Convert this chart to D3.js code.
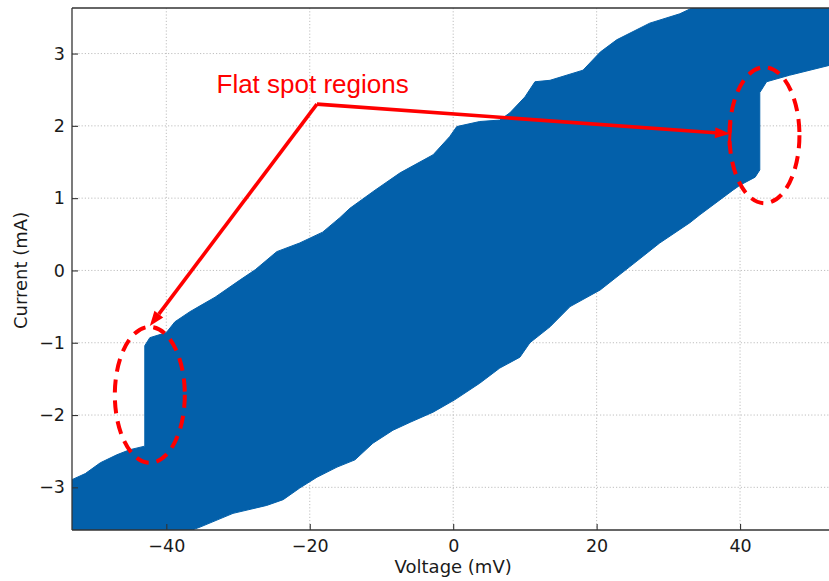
<!DOCTYPE html>
<html><head><meta charset="utf-8">
<script src="https://cdn.jsdelivr.net/npm/d3@7/dist/d3.min.js"></script>
<style>
html,body{margin:0;padding:0;background:#fff;}
svg{display:block;}
</style></head>
<body>
<svg id="chart" width="829" height="581"></svg>
<script>
// Upper boundary of the measured I-V band (voltage mV, current mA)
const upperV = [-53.3, -51.3, -49.2, -46.9, -45.1, -43.0, -43.0, -42.3, -40.0, -38.8, -36.7, -35.3, -33.2, -29.7, -27.6, -24.6, -21.4, -18.2, -15.8, -14.4, -10.9, -7.4, -2.8, -0.5, 0.5, 3.7, 6.5, 7.9, 10.0, 11.4, 13.5, 18.1, 20.5, 22.8, 27.4, 31.6, 34.8, 53];
const upperI = [-2.90, -2.81, -2.66, -2.55, -2.48, -2.43, -1.04, -0.93, -0.86, -0.71, -0.57, -0.49, -0.37, -0.13, 0.01, 0.26, 0.38, 0.53, 0.73, 0.86, 1.11, 1.35, 1.60, 1.85, 1.99, 2.06, 2.08, 2.18, 2.40, 2.61, 2.63, 2.77, 3.02, 3.19, 3.42, 3.55, 3.70, 3.70];
// Lower boundary of the band
const lowerV = [-53.3, -37.4, -36.4, -35.3, -30.7, -26.0, -23.7, -21.4, -19.0, -16.2, -13.7, -11.2, -8.4, -6.0, -2.8, 0.2, 3.7, 6.5, 9.3, 10.7, 13.5, 16.3, 20.5, 24.6, 28.8, 33.0, 34.4, 39.0, 40.0, 42.1, 42.75, 42.75, 43.7, 46.9, 53];
const lowerI = [-3.70, -3.66, -3.59, -3.55, -3.36, -3.25, -3.17, -3.01, -2.86, -2.72, -2.62, -2.39, -2.21, -2.10, -1.96, -1.79, -1.56, -1.35, -1.20, -1.00, -0.78, -0.50, -0.27, 0.05, 0.38, 0.66, 0.77, 1.11, 1.18, 1.29, 1.39, 2.46, 2.61, 2.70, 2.85];

const xTicks = [-40, -20, 0, 20, 40];
const yTicks = [-3, -2, -1, 0, 1, 2, 3];
const xDomain = [-53.15, 52.4];
const yDomain = [-3.59, 3.63];

// annotation anchors (data units)
const labelText = "Flat spot regions";
const labelPos = [-33.0, 2.46];
const arrowVertex = [-19.0, 2.30];
const arrowTips = [[-42.3, -0.77], [38.6, 1.89]];
const ellipseCenters = [[-42.3, -1.72], [43.4, 1.87]];
const ellipseRadii = [4.88, 0.94];

const L = 72, R = 829, T = 8, B = 530;
const svg = d3.select("#chart");
const x = d3.scaleLinear().domain(xDomain).range([L, R]);
const y = d3.scaleLinear().domain(yDomain).range([B, T]);

svg.append("defs").append("clipPath").attr("id", "clip")
  .append("rect").attr("x", L).attr("y", T).attr("width", R - L + 5).attr("height", B - T);

const grid = svg.append("g").attr("stroke", "#b8b8b8").attr("stroke-width", 0.9).attr("stroke-dasharray", "1.2,2");
xTicks.forEach(t => grid.append("line").attr("x1", x(t)).attr("x2", x(t)).attr("y1", T).attr("y2", B));
yTicks.forEach(t => grid.append("line").attr("y1", y(t)).attr("y2", y(t)).attr("x1", L).attr("x2", R + 5));

// band polygon
const upper = upperV.map((v, i) => [v, upperI[i]]);
const lower = lowerV.map((v, i) => [v, lowerI[i]]).reverse();
const poly = upper.concat(lower);
svg.append("path")
  .attr("clip-path", "url(#clip)")
  .attr("d", d3.line().x(d => x(d[0])).y(d => y(d[1]))(poly) + "Z")
  .attr("fill", "#0360aa").attr("stroke", "#0360aa").attr("stroke-width", 1);

// axes
const fontTick = "DejaVu Sans, sans-serif";
const xAxis = d3.axisBottom(x).tickValues(xTicks).tickSizeInner(-6).tickSizeOuter(0).tickPadding(10)
  .tickFormat(d => d < 0 ? "\u2212" + Math.abs(d) : String(d));
const gx = svg.append("g").attr("transform", `translate(0,${B})`).call(xAxis);
const yAxis = d3.axisLeft(y).tickValues(yTicks).tickSizeInner(-6).tickSizeOuter(0).tickPadding(7)
  .tickFormat(d => d < 0 ? "\u2212" + Math.abs(d) : String(d));
const gy = svg.append("g").attr("transform", `translate(${L},0)`).call(yAxis);
[gx, gy].forEach(g => {
  g.select(".domain").remove();
  g.selectAll(".tick line").attr("stroke", "#333").attr("stroke-width", 1.1);
  g.selectAll(".tick text").attr("fill", "#1a1a1a").style("font-family", fontTick).style("font-size", "17.5px");
});
gx.selectAll(".tick text").attr("dy", "0.71em");
// spines
const sp = svg.append("g").attr("stroke", "#333").attr("stroke-width", 1.3).attr("fill", "none");
sp.append("line").attr("x1", L).attr("x2", L).attr("y1", T).attr("y2", B);
sp.append("line").attr("x1", L).attr("x2", R + 5).attr("y1", B).attr("y2", B);
sp.append("line").attr("x1", L).attr("x2", R + 5).attr("y1", T).attr("y2", T);

svg.append("text").attr("x", x(0)).attr("y", 573).attr("text-anchor", "middle")
  .style("font-family", fontTick).style("font-size", "18px").attr("fill", "#1a1a1a").text("Voltage (mV)");
svg.append("text").attr("transform", `translate(27,${y(0)}) rotate(-90)`).attr("text-anchor", "middle")
  .style("font-family", fontTick).style("font-size", "18px").attr("fill", "#1a1a1a").text("Current (mA)");

// annotations
const red = "#ff0000";
const ann = svg.append("g");
ann.append("text").attr("x", x(labelPos[0])).attr("y", y(labelPos[1]))
  .style("font-family", "Liberation Sans, Arial, sans-serif").style("font-size", "26px")
  .attr("fill", red).text(labelText);

function arrow(from, to, bar) {
  const x0 = x(from[0]), y0 = y(from[1]), x1 = x(to[0]), y1 = y(to[1]);
  const ang = Math.atan2(y1 - y0, x1 - x0);
  const hl = 15, hw = 5.5;
  const bx = x1 - hl * Math.cos(ang), by = y1 - hl * Math.sin(ang);
  ann.append("line").attr("x1", x0).attr("y1", y0).attr("x2", bx).attr("y2", by)
    .attr("stroke", red).attr("stroke-width", 3.6);
  const px = -Math.sin(ang), py = Math.cos(ang);
  ann.append("path").attr("d", `M${x1},${y1}L${bx + px * hw},${by + py * hw}L${bx - px * hw},${by - py * hw}Z`)
    .attr("fill", red);
  if (bar) {
    ann.append("line").attr("x1", x1 - px * 12).attr("y1", y1 - py * 12).attr("x2", x1 + px * 12).attr("y2", y1 + py * 12)
      .attr("stroke", red).attr("stroke-width", 3);
  }
}
arrow(arrowVertex, arrowTips[0], false);
arrow(arrowVertex, arrowTips[1], true);

ellipseCenters.forEach(c => {
  ann.append("ellipse").attr("cx", x(c[0])).attr("cy", y(c[1]))
    .attr("rx", x(c[0] + ellipseRadii[0]) - x(c[0])).attr("ry", y(c[1] - ellipseRadii[1]) - y(c[1]))
    .attr("fill", "none").attr("stroke", red).attr("stroke-width", 4).attr("stroke-dasharray", "13,8");
});
</script>
</body></html>
